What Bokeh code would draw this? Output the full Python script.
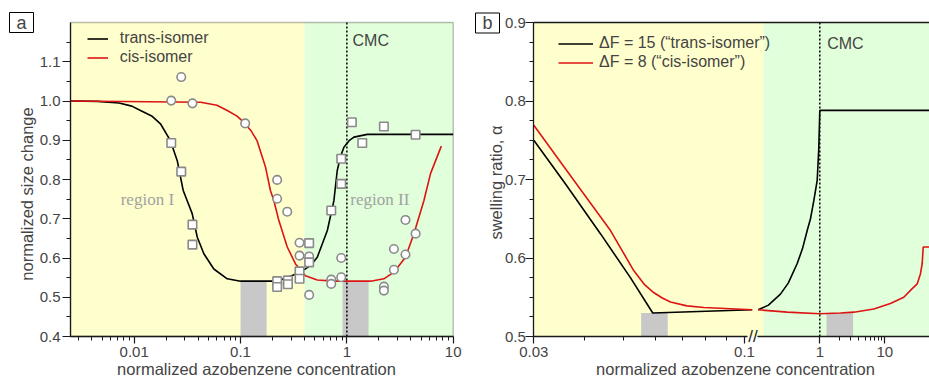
import math
from bokeh.plotting import figure
from bokeh.layouts import row
from bokeh.models import (Range1d, LogScale, LogAxis, LinearAxis, FixedTicker, SingleIntervalTicker,
                          NumeralTickFormatter, BoxAnnotation, Label, Legend, LegendItem)
from bokeh.embed import file_html
from bokeh.resources import INLINE

# ---------------- data: panel a ----------------
a_xmin, a_xmax, a_ymin, a_ymax = 0.00252, 10, 0.4, 1.2
trans_fit_x = [0.00252, 0.0045, 0.0072, 0.0095, 0.01146, 0.0146, 0.01766, 0.0219, 0.0254, 0.0289,
               0.0351, 0.0392, 0.0452, 0.0561, 0.075, 0.1, 0.221, 0.367, 0.46, 0.527, 0.655, 0.755,
               0.812, 0.87, 0.938, 1.05, 1.165, 1.556, 10]
trans_fit_y = [1.0, 0.999, 0.995, 0.987, 0.976, 0.962, 0.942, 0.899, 0.848, 0.772,
               0.713, 0.653, 0.611, 0.572, 0.547, 0.541, 0.541, 0.564, 0.582, 0.602, 0.670, 0.746,
               0.823, 0.858, 0.882, 0.899, 0.908, 0.915, 0.915]
cis_fit_x = [0.00252, 0.0421, 0.06, 0.075, 0.092, 0.107, 0.125, 0.143, 0.172, 0.191, 0.206, 0.229,
             0.275, 0.329, 0.408, 0.527, 0.755, 1.67, 2.23, 2.77, 3.56, 4.27, 5.30, 6.12, 7.73]
cis_fit_y = [1.0, 0.997, 0.989, 0.976, 0.962, 0.946, 0.925, 0.899, 0.831, 0.772, 0.746, 0.696,
             0.628, 0.585, 0.555, 0.544, 0.541, 0.541, 0.547, 0.564, 0.602, 0.662, 0.746, 0.815, 0.885]
trans_pts_x = [0.0223, 0.0277, 0.0353, 0.0353, 0.221, 0.221, 0.279, 0.279, 0.359, 0.359,
               0.442, 0.442, 0.713, 0.885, 0.885, 1.114, 1.396, 2.23, 4.43]
trans_pts_y = [0.893, 0.820, 0.685, 0.634, 0.541, 0.526, 0.543, 0.533, 0.566, 0.547,
               0.638, 0.589, 0.721, 0.789, 0.853, 0.946, 0.893, 0.935, 0.914]
cis_pts_x = [0.0223, 0.0277, 0.0353, 0.1106, 0.221, 0.221, 0.275, 0.359, 0.359, 0.442, 0.442,
             0.713, 0.713, 0.885, 0.885, 2.23, 2.23, 2.77, 2.77, 3.56, 3.56, 4.43]
cis_pts_y = [1.001, 1.061, 0.994, 0.943, 0.799, 0.751, 0.718, 0.639, 0.606, 0.604, 0.506,
             0.545, 0.534, 0.600, 0.551, 0.527, 0.517, 0.623, 0.570, 0.697, 0.609, 0.662]
a_bar_left = [0.1, 0.91]
a_bar_right = [0.176, 1.6]
a_bar_top = [0.54, 0.54]
a_region_split = 0.4
cmc = 1.0

# ---------------- data: panel b ----------------
b_ymin, b_ymax = 0.5, 0.9
b_left_min, b_left_break, b_right_break, b_right_max = 0.03, 0.1016, 0.1089, 48.7
# left (expanded) segment of the broken axis
b_trans_left_x = [0.03, 0.036, 0.0439, 0.0521, 0.0592, 0.1045]
b_trans_left_y = [0.750, 0.694, 0.631, 0.575, 0.530, 0.534]
b_cis_left_x = [0.03, 0.0377, 0.0465, 0.0531, 0.0565, 0.0595, 0.0625, 0.0655, 0.072, 0.0793, 0.1045]
b_cis_left_y = [0.769, 0.699, 0.635, 0.584, 0.566, 0.556, 0.549, 0.544, 0.539, 0.537, 0.534]
# right (compressed) segment
b_trans_right_x = [0.113, 0.162, 0.248, 0.327, 0.449, 0.542, 0.640, 0.719, 0.809, 0.912, 0.965, 1.0, 48.7]
b_trans_right_y = [0.534, 0.540, 0.554, 0.568, 0.593, 0.612, 0.635, 0.650, 0.673, 0.699, 0.740, 0.788, 0.788]
b_cis_right_x = [0.113, 0.315, 1.0, 2.08, 3.34, 6.77, 12.2, 19.6, 26.4, 31.5, 35.4, 37.6, 39.0, 48.7]
b_cis_right_y = [0.534, 0.531, 0.529, 0.530, 0.531, 0.535, 0.542, 0.550, 0.561, 0.567, 0.580,
                 0.593, 0.614, 0.614]
b_bar_left_seg = [0.0554, 0.0645]
b_bar_right_seg = [1.27, 3.26]
b_bar_top = 0.53
b_region_split = 0.137

FONT = "Liberation Sans"
BLACK = "#000000"
AXC = "#1a1a1a"
RED = "#DC1414"
YELLOW = "#FFFFCD"
GREEN = "#E1FFDA"
GREY_BAR = "#C8C8C8"
MARK_EDGE = "#8A8A8A"
TITLE_SIZE = "16.5px"


def style_y(ax, minor, lab_standoff):
    ax.ticker = SingleIntervalTicker(interval=0.1, num_minor_ticks=minor)
    ax.formatter = NumeralTickFormatter(format="0.0")
    ax.major_label_text_font = FONT
    ax.major_label_text_font_size = "15px"
    ax.major_label_standoff = lab_standoff
    ax.major_tick_out = 8
    ax.major_tick_in = 0
    ax.minor_tick_out = 4
    ax.minor_tick_in = 0
    ax.axis_line_width = 1.3
    ax.axis_line_color = AXC
    ax.major_tick_line_width = 1.2
    ax.minor_tick_line_width = 1.0
    ax.major_tick_line_color = AXC
    ax.minor_tick_line_color = AXC


def style_x(ax):
    ax.formatter = NumeralTickFormatter(format="0.[00]")
    ax.major_label_text_font = FONT
    ax.major_label_text_font_size = "15px"
    ax.major_label_standoff = 3
    ax.major_tick_out = 7
    ax.major_tick_in = 0
    ax.minor_tick_out = 4
    ax.minor_tick_in = 0
    ax.axis_line_width = 1.3
    ax.axis_line_color = AXC
    ax.major_tick_line_width = 1.2
    ax.minor_tick_line_width = 1.0
    ax.major_tick_line_color = AXC
    ax.minor_tick_line_color = AXC


def bare(p):
    p.grid.visible = False
    p.outline_line_color = None
    p.min_border = 0
    p.min_border_left = 0
    p.min_border_right = 0
    p.min_border_top = 0
    p.min_border_bottom = 0
    p.background_fill_color = "white"


def screen_text(p, x, y, text, angle=0.0, baseline="middle", size=TITLE_SIZE):
    p.add_layout(Label(x=x, y=y, x_units="screen", y_units="screen", text=text, angle=angle,
                       text_align="center", text_baseline=baseline, text_font=FONT,
                       text_font_size=size))


def panel_tag(p, x, y, text):
    p.add_layout(Label(x=x, y=y, x_units="screen", y_units="screen", text=text,
                       text_align="center", text_baseline="middle", text_font=FONT,
                       text_font_size="18px", border_line_color=BLACK, border_line_width=1,
                       background_fill_color="white", padding=(7, 0)))


# ================= panel a =================
# the frame covers the whole canvas; the plot box sits inside it via fixed-location axes
pa = figure(width=470, height=378, x_axis_type="log", x_axis_location=None, y_axis_location=None,
            x_range=Range1d(10 ** -3.2574, 10 ** 1.1627), y_range=Range1d(0.2930, 1.2561),
            toolbar_location=None, output_backend="svg")
bare(pa)

pa.add_layout(BoxAnnotation(left=a_xmin, right=a_region_split, bottom=a_ymin, top=a_ymax,
                            fill_color=YELLOW, fill_alpha=1, line_color=None, level="underlay"))
pa.add_layout(BoxAnnotation(left=a_region_split, right=a_xmax, bottom=a_ymin, top=a_ymax,
                            fill_color=GREEN, fill_alpha=1, line_color=None, level="underlay"))
pa.quad(left=a_bar_left, right=a_bar_right, bottom=a_ymin, top=a_bar_top,
        fill_color=GREY_BAR, line_color=None)
pa.segment(x0=[cmc], y0=[a_ymin], x1=[cmc], y1=[a_ymax], line_color=BLACK, line_width=1.5,
           line_dash="2 2")

ra1 = pa.line(trans_fit_x, trans_fit_y, line_color=BLACK, line_width=1.6)
ra2 = pa.line(cis_fit_x, cis_fit_y, line_color=RED, line_width=1.6)
pa.scatter(cis_pts_x, cis_pts_y, marker="circle", size=8.5, fill_color="white",
           line_color=MARK_EDGE, line_width=1.6)
pa.scatter(trans_pts_x, trans_pts_y, marker="square", size=8.5, fill_color="white",
           line_color=MARK_EDGE, line_width=1.6)

pa.add_layout(BoxAnnotation(left=a_xmin, right=a_xmax, bottom=a_ymin, top=a_ymax,
                            fill_alpha=0, line_color=AXC, line_width=1.3, level="overlay"))

ya = LinearAxis(fixed_location=a_xmin, bounds=(a_ymin, a_ymax))
style_y(ya, 2, 2)
pa.add_layout(ya, "left")
xa = LogAxis(fixed_location=a_ymin, bounds=(a_xmin, a_xmax),
             ticker=FixedTicker(ticks=[0.01, 0.1, 1, 10],
                                minor_ticks=[k * 10.0 ** e for e in (-3, -2, -1, 0)
                                             for k in range(2, 10) if k * 10.0 ** e >= 0.0026]))
style_x(xa)
pa.add_layout(xa, "below")

leg_a = Legend(items=[LegendItem(label="trans-isomer", renderers=[ra1]),
                      LegendItem(label="cis-isomer", renderers=[ra2])],
               location=(86.7, 311.5), padding=0, margin=0, spacing=0,
               glyph_width=21, glyph_height=19, label_height=19, label_standoff=12,
               label_text_font=FONT, label_text_font_size="16px",
               background_fill_alpha=0, border_line_color=None)
pa.add_layout(leg_a)

pa.add_layout(Label(x=1.13, y=1.154, text="CMC", text_align="left", text_baseline="middle",
                    text_font=FONT, text_font_size="16px"))
pa.add_layout(Label(x=0.0133, y=0.749, text="region I", text_align="center",
                    text_baseline="middle", text_font="Liberation Serif",
                    text_font_size="17px", text_color="#A2A2A2"))
pa.add_layout(Label(x=2.04, y=0.749, text="region II", text_align="center",
                    text_baseline="middle", text_font="Liberation Serif",
                    text_font_size="17px", text_color="#A2A2A2"))
screen_text(pa, 256, 1, "normalized azobenzene concentration", baseline="bottom")
screen_text(pa, 26.7, 184.5, "normalized size change", angle=math.pi / 2)
panel_tag(pa, 21, 356, "a")

# ================= panel b =================
pb = figure(width=459, height=378, x_axis_type="log", x_axis_location=None, y_axis_location=None,
            x_range=Range1d(10 ** -1.6800, 10 ** -0.5408), y_range=Range1d(0.44650, 0.92803),
            toolbar_location=None, output_backend="svg")
pb.extra_x_ranges = {"r": Range1d(10 ** -5.374, 10 ** 1.6877)}
pb.extra_x_scales = {"r": LogScale()}
bare(pb)

pb.add_layout(BoxAnnotation(left=b_left_min, bottom=b_ymin, top=b_ymax, fill_color=YELLOW,
                            fill_alpha=1, line_color=None, level="underlay"))
pb.add_layout(BoxAnnotation(left=b_region_split, bottom=b_ymin, top=b_ymax, x_range_name="r",
                            fill_color=GREEN, fill_alpha=1, line_color=None, level="underlay"))
pb.quad(left=[b_bar_left_seg[0]], right=[b_bar_left_seg[1]], bottom=b_ymin, top=b_bar_top,
        fill_color=GREY_BAR, line_color=None)
pb.quad(left=[b_bar_right_seg[0]], right=[b_bar_right_seg[1]], bottom=b_ymin, top=b_bar_top,
        fill_color=GREY_BAR, line_color=None, x_range_name="r")
pb.segment(x0=[cmc], y0=[b_ymin], x1=[cmc], y1=[b_ymax], line_color=BLACK, line_width=1.5,
           line_dash="2 2", x_range_name="r")

rb1 = pb.line(b_trans_left_x, b_trans_left_y, line_color=BLACK, line_width=1.6)
rb2 = pb.line(b_cis_left_x, b_cis_left_y, line_color=RED, line_width=1.6)
pb.line(b_trans_right_x, b_trans_right_y, line_color=BLACK, line_width=1.6, x_range_name="r")
pb.line(b_cis_right_x, b_cis_right_y, line_color=RED, line_width=1.6, x_range_name="r")

yb = LinearAxis(fixed_location=b_left_min, bounds=(b_ymin, b_ymax))
style_y(yb, 4, 0)
pb.add_layout(yb, "left")
xbl = LogAxis(fixed_location=b_ymin, bounds=(b_left_min, b_left_break),
              ticker=FixedTicker(ticks=[0.03, 0.1],
                                 minor_ticks=[0.04, 0.05, 0.06, 0.07, 0.08, 0.09]))
style_x(xbl)
pb.add_layout(xbl, "below")
xbr = LogAxis(fixed_location=b_ymin, x_range_name="r", bounds=(b_right_break, b_right_max),
              ticker=FixedTicker(ticks=[1, 10], minor_ticks=[2, 3, 4, 5, 6, 7, 8, 9]))
style_x(xbr)
pb.add_layout(xbr, "below")
# top border of panel b
xtop = LogAxis(fixed_location=b_ymax, bounds=(b_left_min, 10 ** -0.5408),
               ticker=FixedTicker(ticks=[]), major_tick_out=0, minor_tick_out=0,
               major_label_text_alpha=0, axis_line_width=1.3, axis_line_color=AXC)
pb.add_layout(xtop, "above")

pb.add_layout(Label(x=0.105, y=b_ymin, text="//", text_align="center", text_baseline="middle",
                    text_font=FONT, text_font_size="17px", text_color=AXC))

leg_b = Legend(items=[LegendItem(label="\u0394F = 15 (\u201ctrans-isomer\u201d)", renderers=[rb1]),
                      LegendItem(label="\u0394F = 8 (\u201ccis-isomer\u201d)", renderers=[rb2])],
               location=(88, 306.5), padding=0, margin=0, spacing=0,
               glyph_width=35, glyph_height=19, label_height=19, label_standoff=6,
               label_text_font=FONT, label_text_font_size="16px",
               background_fill_alpha=0, border_line_color=None)
pb.add_layout(leg_b)

pb.add_layout(Label(x=1.3, y=0.873, x_range_name="r", text="CMC", text_align="left",
                    text_baseline="middle", text_font=FONT, text_font_size="16px"))
screen_text(pb, 265, 1, "normalized azobenzene concentration", baseline="bottom")
screen_text(pb, 25, 196, "swelling ratio, \u03b1", angle=math.pi / 2)
panel_tag(pb, 17, 355.5, "b")

layout = row(pa, pb)
open("out.html", "w").write(file_html(layout, INLINE, title="chart"))
